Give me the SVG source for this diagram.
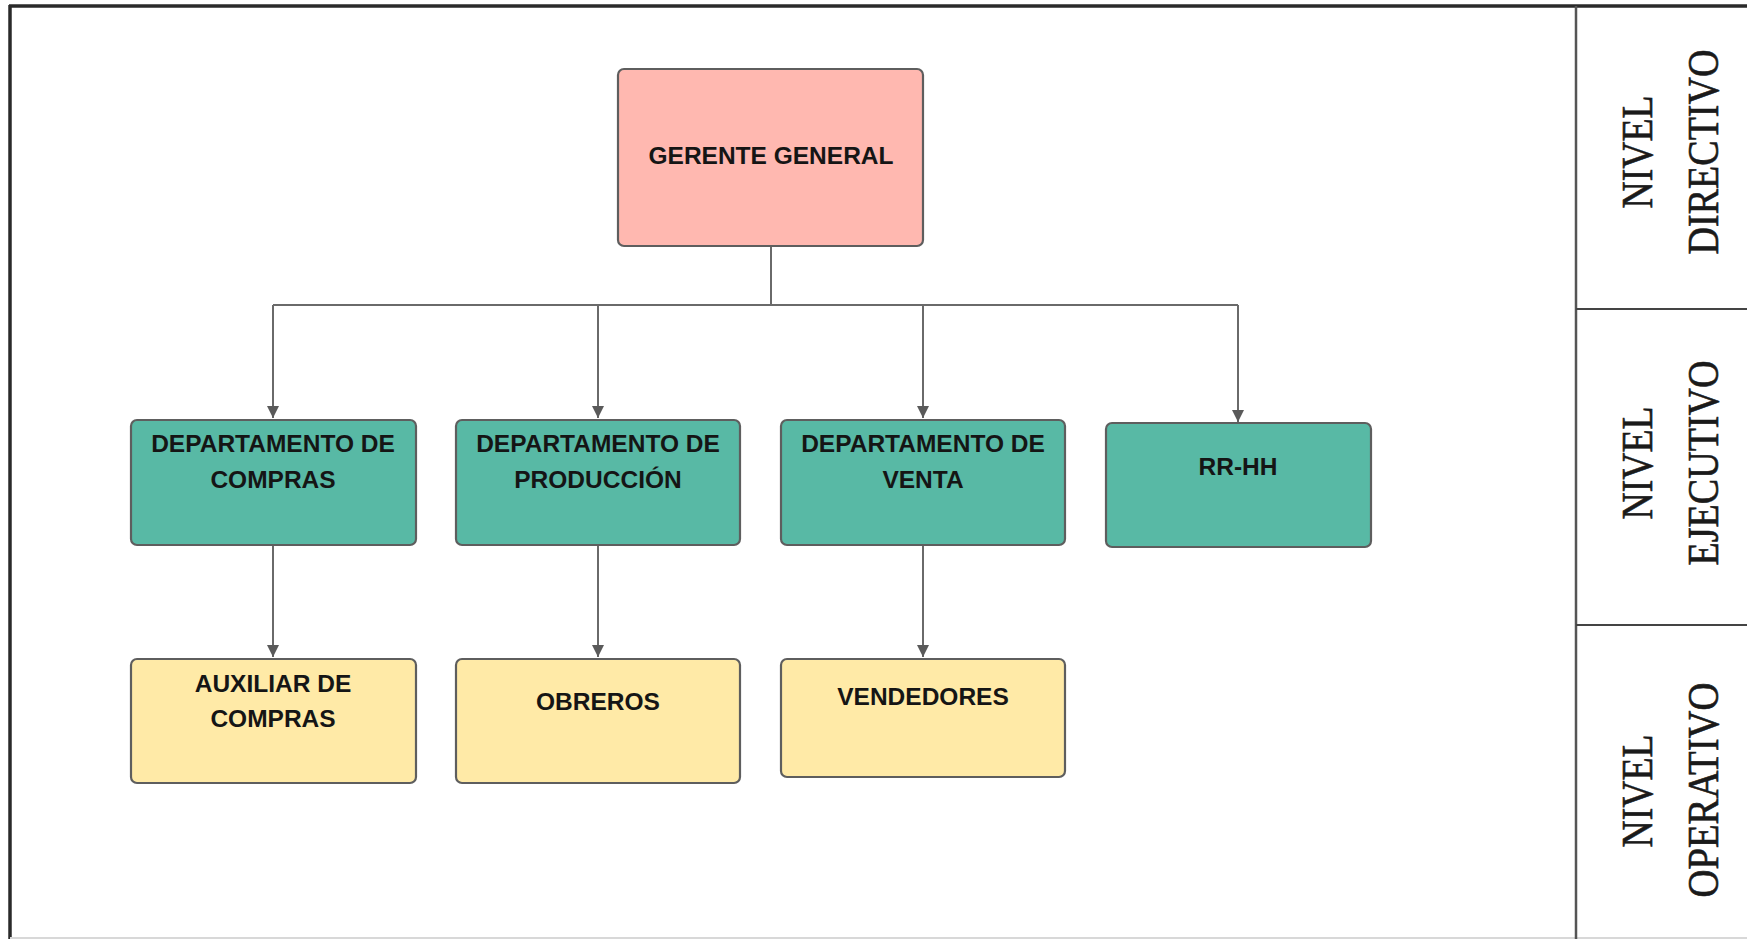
<svg xmlns="http://www.w3.org/2000/svg" width="1747" height="939" viewBox="0 0 1747 939">
<style>
.box{stroke:#5e5e5e;stroke-width:2.2}
.pink{fill:#ffb8b0}
.teal{fill:#58b9a5}
.yel{fill:#ffeaa7}
.t{font-family:"Liberation Sans",Arial,sans-serif;font-weight:bold;font-size:24.5px;fill:#151515;text-anchor:middle;dominant-baseline:central}
.lv{font-family:"Liberation Serif","Times New Roman",serif;font-size:44px;fill:#1a1a1a;stroke:#1a1a1a;stroke-width:0.6;text-anchor:middle}
.frame{stroke:#2a2a2a;fill:none}
.con{stroke:#6a6a6a;stroke-width:2;fill:none}
</style>
<defs>
<marker id="arr" viewBox="0 0 10 10" refX="10" refY="5" markerWidth="6.5" markerHeight="6" orient="auto" markerUnits="strokeWidth">
<path d="M0,0 L10,5 L0,10 z" fill="#5a5a5a"/>
</marker>
</defs>
<rect width="1747" height="939" fill="#ffffff"/>
<g id="frame">
<line class="frame" x1="9" y1="6" x2="1747" y2="6" stroke-width="3.5"/>
<line class="frame" x1="10" y1="5" x2="10" y2="939" stroke-width="3.5"/>
<line x1="10" y1="938" x2="1747" y2="938" stroke="#d8d8d8" stroke-width="2"/>
<line x1="1576" y1="6" x2="1576" y2="939" stroke="#555" stroke-width="2.5"/>
<line x1="1576" y1="309" x2="1747" y2="309" stroke="#444" stroke-width="2"/>
<line x1="1576" y1="625" x2="1747" y2="625" stroke="#444" stroke-width="2"/>
</g>
<g id="levels">
<text class="lv" transform="translate(1652,152) rotate(-90)" textLength="113" lengthAdjust="spacingAndGlyphs">NIVEL</text>
<text class="lv" transform="translate(1718,152) rotate(-90)" textLength="205" lengthAdjust="spacingAndGlyphs">DIRECTIVO</text>
<text class="lv" transform="translate(1652,463) rotate(-90)" textLength="113" lengthAdjust="spacingAndGlyphs">NIVEL</text>
<text class="lv" transform="translate(1718,463) rotate(-90)" textLength="205" lengthAdjust="spacingAndGlyphs">EJECUTIVO</text>
<text class="lv" transform="translate(1652,791) rotate(-90)" textLength="113" lengthAdjust="spacingAndGlyphs">NIVEL</text>
<text class="lv" transform="translate(1718,790) rotate(-90)" textLength="215" lengthAdjust="spacingAndGlyphs">OPERATIVO</text>
</g>
<g id="connectors">
<path class="con" d="M771,247 V305"/>
<path class="con" d="M273,305 H1238"/>
<path class="con" d="M273,305 V418" marker-end="url(#arr)"/>
<path class="con" d="M598,305 V418" marker-end="url(#arr)"/>
<path class="con" d="M923,305 V418" marker-end="url(#arr)"/>
<path class="con" d="M1238,305 V422" marker-end="url(#arr)"/>
<path class="con" d="M273,545 V657" marker-end="url(#arr)"/>
<path class="con" d="M598,545 V657" marker-end="url(#arr)"/>
<path class="con" d="M923,545 V657" marker-end="url(#arr)"/>
</g>
<g id="gerente">
<rect class="box pink" x="618" y="69" width="305" height="177" rx="6"/>
<text class="t" x="771" y="155">GERENTE GENERAL</text>
</g>
<g id="dep-compras">
<rect class="box teal" x="131" y="420" width="285" height="125" rx="6"/>
<text class="t" x="273" y="443">DEPARTAMENTO DE</text>
<text class="t" x="273" y="479">COMPRAS</text>
</g>
<g id="dep-produccion">
<rect class="box teal" x="456" y="420" width="284" height="125" rx="6"/>
<text class="t" x="598" y="443">DEPARTAMENTO DE</text>
<text class="t" x="598" y="479">PRODUCCIÓN</text>
</g>
<g id="dep-venta">
<rect class="box teal" x="781" y="420" width="284" height="125" rx="6"/>
<text class="t" x="923" y="443">DEPARTAMENTO DE</text>
<text class="t" x="923" y="479">VENTA</text>
</g>
<g id="rrhh">
<rect class="box teal" x="1106" y="423" width="265" height="124" rx="6"/>
<text class="t" x="1238" y="466">RR-HH</text>
</g>
<g id="auxiliar">
<rect class="box yel" x="131" y="659" width="285" height="124" rx="6"/>
<text class="t" x="273" y="683">AUXILIAR DE</text>
<text class="t" x="273" y="718">COMPRAS</text>
</g>
<g id="obreros">
<rect class="box yel" x="456" y="659" width="284" height="124" rx="6"/>
<text class="t" x="598" y="701">OBREROS</text>
</g>
<g id="vendedores">
<rect class="box yel" x="781" y="659" width="284" height="118" rx="6"/>
<text class="t" x="923" y="696">VENDEDORES</text>
</g>
</svg>
